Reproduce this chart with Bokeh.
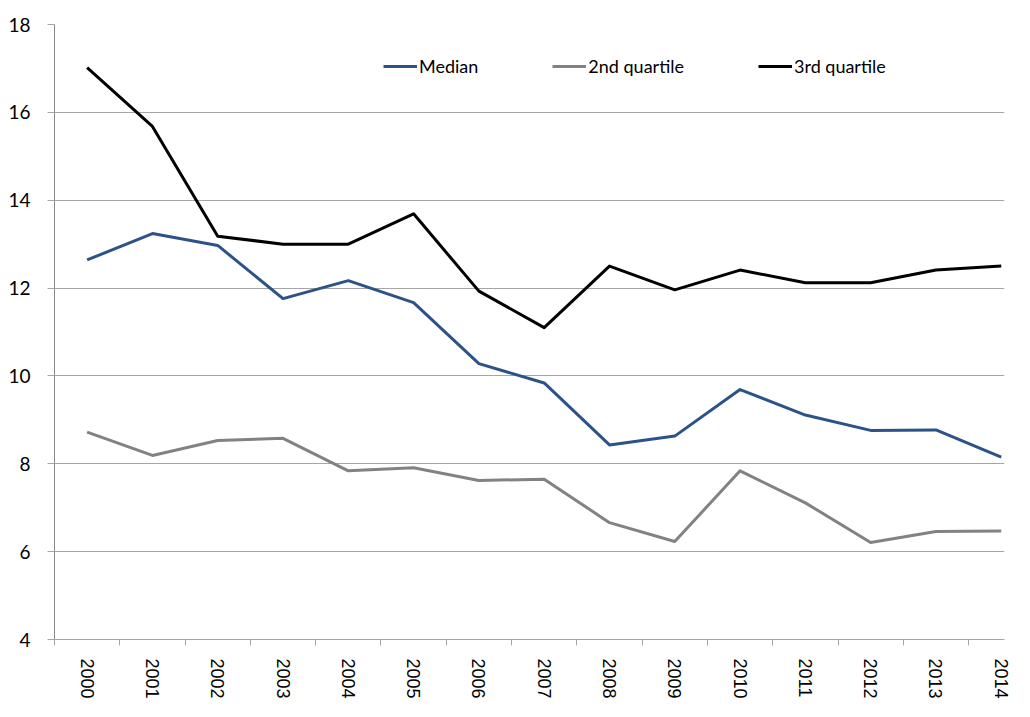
from bokeh.plotting import figure
from bokeh.models import Range1d, FixedTicker, Legend, LegendItem, BasicTickFormatter
from bokeh.embed import file_html
from bokeh.resources import INLINE

years = list(range(2000, 2015))
median = [12.64, 13.24, 12.97, 11.76, 12.17, 11.67, 10.28, 9.84, 8.43, 8.63, 9.69, 9.11, 8.76, 8.77, 8.15]
q2 = [8.72, 8.19, 8.53, 8.58, 7.84, 7.91, 7.62, 7.65, 6.66, 6.23, 7.84, 7.11, 6.21, 6.46, 6.47]
q3 = [17.02, 15.68, 13.18, 13.0, 13.0, 13.69, 11.93, 11.10, 12.50, 11.96, 12.41, 12.12, 12.12, 12.41, 12.50]
y_ticks = [4, 6, 8, 10, 12, 14, 16, 18]
series_names = ["Median", "2nd quartile", "3rd quartile"]
series_colors = ["#2B5389", "#828282", "#000000"]

p = figure(width=1014, height=701, output_backend="svg", toolbar_location=None,
           x_range=Range1d(years[0] - 0.5, years[-1] + 0.05),
           y_range=Range1d(y_ticks[0], y_ticks[-1]),
           min_border_left=54, min_border_top=24, min_border_right=10, min_border_bottom=0)
p.outline_line_color = None

# x axis
p.xaxis.ticker = FixedTicker(ticks=years, minor_ticks=[y - 0.5 for y in years] + [years[-1] + 0.5])
p.xaxis.formatter = BasicTickFormatter(use_scientific=False)
p.xaxis.major_tick_line_color = None
p.xaxis.major_tick_out = 0
p.xaxis.major_tick_in = 0
p.xaxis.minor_tick_line_color = "#A6A6A6"
p.xaxis.minor_tick_out = 6
p.xaxis.minor_tick_in = 0
p.xaxis.axis_line_color = "#A6A6A6"
p.xaxis.major_label_orientation = "vertical"
p.xaxis.major_label_standoff = 13
p.xaxis.major_label_text_font = "Liberation Sans"
p.xaxis.major_label_text_font_size = "18px"
p.xaxis.major_label_text_color = "#000000"
p.xgrid.grid_line_color = None

# y axis
p.yaxis.ticker = FixedTicker(ticks=y_ticks)
p.yaxis.minor_tick_line_color = None
p.yaxis.major_tick_out = 7
p.yaxis.major_tick_in = 0
p.yaxis.major_tick_line_color = "#A6A6A6"
p.yaxis.axis_line_color = "#888888"
p.yaxis.major_label_standoff = 17
p.yaxis.major_label_text_font = "Lato"
p.yaxis.major_label_text_font_size = "19px"
p.yaxis.major_label_text_color = "#000000"
p.ygrid.grid_line_color = "#A6A6A6"
p.ygrid.grid_line_width = 1

renderers = []
for vals, color in zip([median, q2, q3], series_colors):
    r = p.line(years, vals, line_color=color, line_width=3, line_join="round")
    renderers.append(r)

legend = Legend(items=[LegendItem(label=n, renderers=[r]) for n, r in zip(series_names, renderers)],
                orientation="horizontal", location=(329, 562),
                glyph_width=34, glyph_height=20, label_height=20, label_standoff=2,
                spacing=74, padding=0, margin=0,
                border_line_color=None, background_fill_alpha=0,
                label_text_font="Lato", label_text_font_size="18px", label_text_color="#000000")
p.add_layout(legend, "center")

open("out.html", "w").write(file_html(p, INLINE))
